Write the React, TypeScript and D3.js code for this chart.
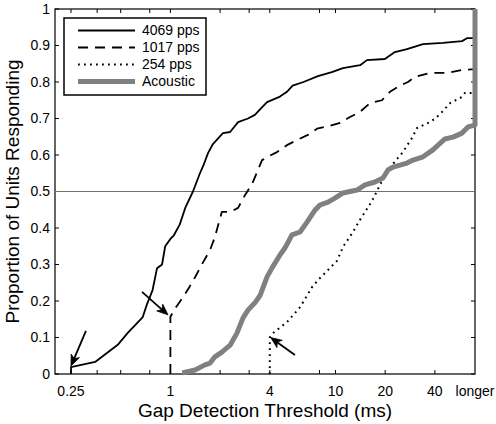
import React from "react";
import * as d3 from "d3";

// Gap detection threshold (ms) vs proportion of units responding
const solid4069: [number, number][] = [
  [0.25, 0], [0.25, 0.019], [0.35, 0.033], [0.48, 0.08], [0.55, 0.112], [0.68, 0.156], [0.72, 0.19],
  [0.78, 0.23], [0.83, 0.29], [0.89, 0.3], [0.93, 0.35], [1.0, 0.37], [1.05, 0.38], [1.14, 0.41],
  [1.23, 0.455], [1.37, 0.5], [1.51, 0.55], [1.58, 0.57], [1.69, 0.605], [1.81, 0.63], [1.94, 0.645],
  [2.08, 0.66], [2.3, 0.663], [2.57, 0.69], [2.95, 0.7], [3.25, 0.71], [3.49, 0.725], [3.85, 0.745],
  [4.61, 0.76], [5.08, 0.773], [5.5, 0.79], [6.4, 0.8], [7.83, 0.816], [9.5, 0.827], [11.1, 0.838],
  [14.1, 0.846], [15.5, 0.86], [19.9, 0.863], [22.9, 0.882], [27.1, 0.89], [33.9, 0.904], [44.8, 0.907],
  [58.4, 0.912], [62.6, 0.92], [70, 0.92], [70, 1.0],
];
const dashed1017: [number, number][] = [
  [1.0, 0], [1.0, 0.157], [1.07, 0.18], [1.19, 0.21], [1.31, 0.24], [1.41, 0.265], [1.55, 0.3],
  [1.74, 0.34], [1.86, 0.375], [2.0, 0.427], [2.05, 0.444], [2.3, 0.444], [2.57, 0.455], [2.83, 0.49],
  [3.12, 0.52], [3.35, 0.553], [3.59, 0.586], [3.85, 0.594], [4.42, 0.608], [5.08, 0.627], [5.85, 0.641],
  [6.81, 0.655], [7.73, 0.672], [9.26, 0.68], [10.65, 0.688], [12.24, 0.704], [14.07, 0.718],
  [16.18, 0.742], [19.12, 0.75], [21.38, 0.773], [24.58, 0.79], [27.49, 0.8], [30.3, 0.814],
  [37.35, 0.825], [47.35, 0.825], [58.4, 0.833], [70, 0.835], [70, 1.0],
];
const dotted254: [number, number][] = [
  [4.0, 0], [4.0, 0.1], [4.18, 0.112], [5.08, 0.142], [6.1, 0.183], [7.21, 0.238], [7.83, 0.257],
  [10.21, 0.31], [11.1, 0.348], [12.76, 0.389], [14.07, 0.422], [16.63, 0.474], [17.59, 0.496],
  [18.6, 0.518], [20.8, 0.559], [23.9, 0.592], [25.6, 0.608], [29.1, 0.647], [31.2, 0.674],
  [37.35, 0.69], [41.2, 0.704], [44.2, 0.718], [49.4, 0.742], [58.4, 0.759], [60.9, 0.77],
  [70, 0.77], [70, 1.0],
];
const acoustic: [number, number][] = [
  [1.18, 0.003], [1.41, 0.011], [1.62, 0.025], [1.74, 0.03], [1.86, 0.047], [2.05, 0.06], [2.3, 0.079],
  [2.53, 0.112], [2.75, 0.153], [2.95, 0.175], [3.25, 0.195], [3.49, 0.215], [3.85, 0.266],
  [4.12, 0.29], [4.61, 0.326], [4.94, 0.345], [5.45, 0.381], [6.1, 0.389], [6.72, 0.416], [7.51, 0.449],
  [8.06, 0.463], [9.01, 0.471], [9.93, 0.482], [11.1, 0.496], [13.5, 0.504], [15.1, 0.518],
  [17.35, 0.526], [19.4, 0.537], [20.8, 0.559], [22.3, 0.567], [27.1, 0.578], [29.5, 0.586],
  [33.9, 0.595], [38.9, 0.614], [46.0, 0.644], [51.5, 0.649], [58.4, 0.66], [63.5, 0.677],
  [70, 0.682], [70, 1.0],
];

// arrows: [tailX, tailY, tipX, tipY]
const arrows: [number, number, number, number][] = [
  [0.308, 0.118, 0.25, 0.022],
  [0.673, 0.225, 0.967, 0.162],
  [5.68, 0.052, 4.05, 0.1],
];

const xTickValues = [0.25, 0.36, 0.5, 0.75, 1, 2, 3, 4, 8, 10, 20, 40];
const xTickLabels: [number, string][] = [
  [0.25, "0.25"], [1, "1"], [4, "4"], [10, "10"], [20, "20"], [40, "40"], [70, "longer"],
];
const yTickValues = [0, 0.1, 0.2, 0.3, 0.4, 0.5, 0.6, 0.7, 0.8, 0.9, 1];
const legendLabels = ["4069 pps", "1017 pps", "254 pps", "Acoustic"];

const W = 496, H = 424;
const L = 55, R = 475, T = 9, B = 374;
const FONT = "'Liberation Sans', Arial, sans-serif";

export default function App() {
  const x = d3.scaleLog().domain([0.2, 70]).range([L, R]);
  const y = d3.scaleLinear().domain([0, 1]).range([B, T]);
  const line = d3.line<[number, number]>().x((d) => x(d[0])).y((d) => y(d[1]));

  const styles = [
    { data: solid4069, stroke: "#000", width: 1.8, dash: undefined as string | undefined },
    { data: dashed1017, stroke: "#000", width: 1.8, dash: "10 7" },
    { data: dotted254, stroke: "#000", width: 2, dash: "1.8 4.2" },
    { data: acoustic, stroke: "#808080", width: 5, dash: undefined },
  ];

  const arrowEls = arrows.map((a, i) => {
    const x1 = x(a[0]), y1 = y(a[1]), x2 = x(a[2]), y2 = y(a[3]);
    const ang = Math.atan2(y2 - y1, x2 - x1);
    const len = 11, hw = 4.5, back = 8;
    const bx = x2 - len * Math.cos(ang), by = y2 - len * Math.sin(ang);
    const nx = -Math.sin(ang), ny = Math.cos(ang);
    const nxp = x2 - back * Math.cos(ang), nyp = y2 - back * Math.sin(ang);
    const head = `M${x2},${y2}L${bx + nx * hw},${by + ny * hw}L${nxp},${nyp}L${bx - nx * hw},${by - ny * hw}Z`;
    return (
      <g key={i}>
        <line x1={x1} y1={y1} x2={nxp} y2={nyp} stroke="#000" strokeWidth={1.8} />
        <path d={head} fill="#000" stroke="#000" strokeWidth={0.8} strokeLinejoin="miter" />
      </g>
    );
  });

  const tickLen = 4;
  const legX = 64, legY = 18, legW = 142, legH = 77;
  const rowY = [30.5, 47.5, 64.5, 81.5];

  return (
    <svg width={W} height={H} style={{ position: "absolute", left: 0, top: 0, background: "#fff" }} fontFamily={FONT}>
      <rect x={0} y={0} width={W} height={H} fill="#fff" />
      {/* axis box */}
      <rect x={L} y={T} width={R - L} height={B - T} fill="none" stroke="#000" strokeWidth={1.2} />
      {xTickValues.map((v) => (
        <g key={"xt" + v}>
          <line x1={x(v)} x2={x(v)} y1={B} y2={B - tickLen} stroke="#000" />
          <line x1={x(v)} x2={x(v)} y1={T} y2={T + tickLen} stroke="#000" />
        </g>
      ))}
      {yTickValues.map((v) => (
        <g key={"yt" + v}>
          <line x1={L} x2={L + tickLen} y1={y(v)} y2={y(v)} stroke="#000" />
          <line x1={R} x2={R - tickLen} y1={y(v)} y2={y(v)} stroke="#000" />
          <text x={L - 5} y={y(v)} dy="0.35em" textAnchor="end" fontSize={14}>{String(v)}</text>
        </g>
      ))}
      {xTickLabels.map(([v, s]) => (
        <text key={"xl" + s} x={x(v)} y={B + 22} textAnchor="middle" fontSize={14}>{s}</text>
      ))}
      {/* reference line at 0.5 */}
      <line x1={L} x2={R} y1={y(0.5)} y2={y(0.5)} stroke="#6e6e6e" strokeWidth={1.2} />
      {/* data */}
      {styles.map((s, i) => (
        <path key={"s" + i} d={line(s.data) || ""} fill="none" stroke={s.stroke} strokeWidth={s.width}
          strokeDasharray={s.dash} strokeLinejoin="round" />
      ))}
      {arrowEls}
      {/* axis titles */}
      <text x={(L + R) / 2} y={417} textAnchor="middle" fontSize={19}>Gap Detection Threshold (ms)</text>
      <text transform={`translate(19,${(T + B) / 2}) rotate(-90)`} textAnchor="middle" fontSize={19}>Proportion of Units Responding</text>
      {/* legend */}
      <rect x={legX} y={legY} width={legW} height={legH} fill="#fff" stroke="#000" strokeWidth={1.5} />
      {legendLabels.map((lab, i) => (
        <g key={"lg" + i}>
          <line x1={78} x2={135} y1={rowY[i]} y2={rowY[i]} stroke={styles[i].stroke}
            strokeWidth={styles[i].width} strokeDasharray={styles[i].dash} />
          <text x={142} y={rowY[i]} dy="0.35em" fontSize={14}>{lab}</text>
        </g>
      ))}
    </svg>
  );
}
